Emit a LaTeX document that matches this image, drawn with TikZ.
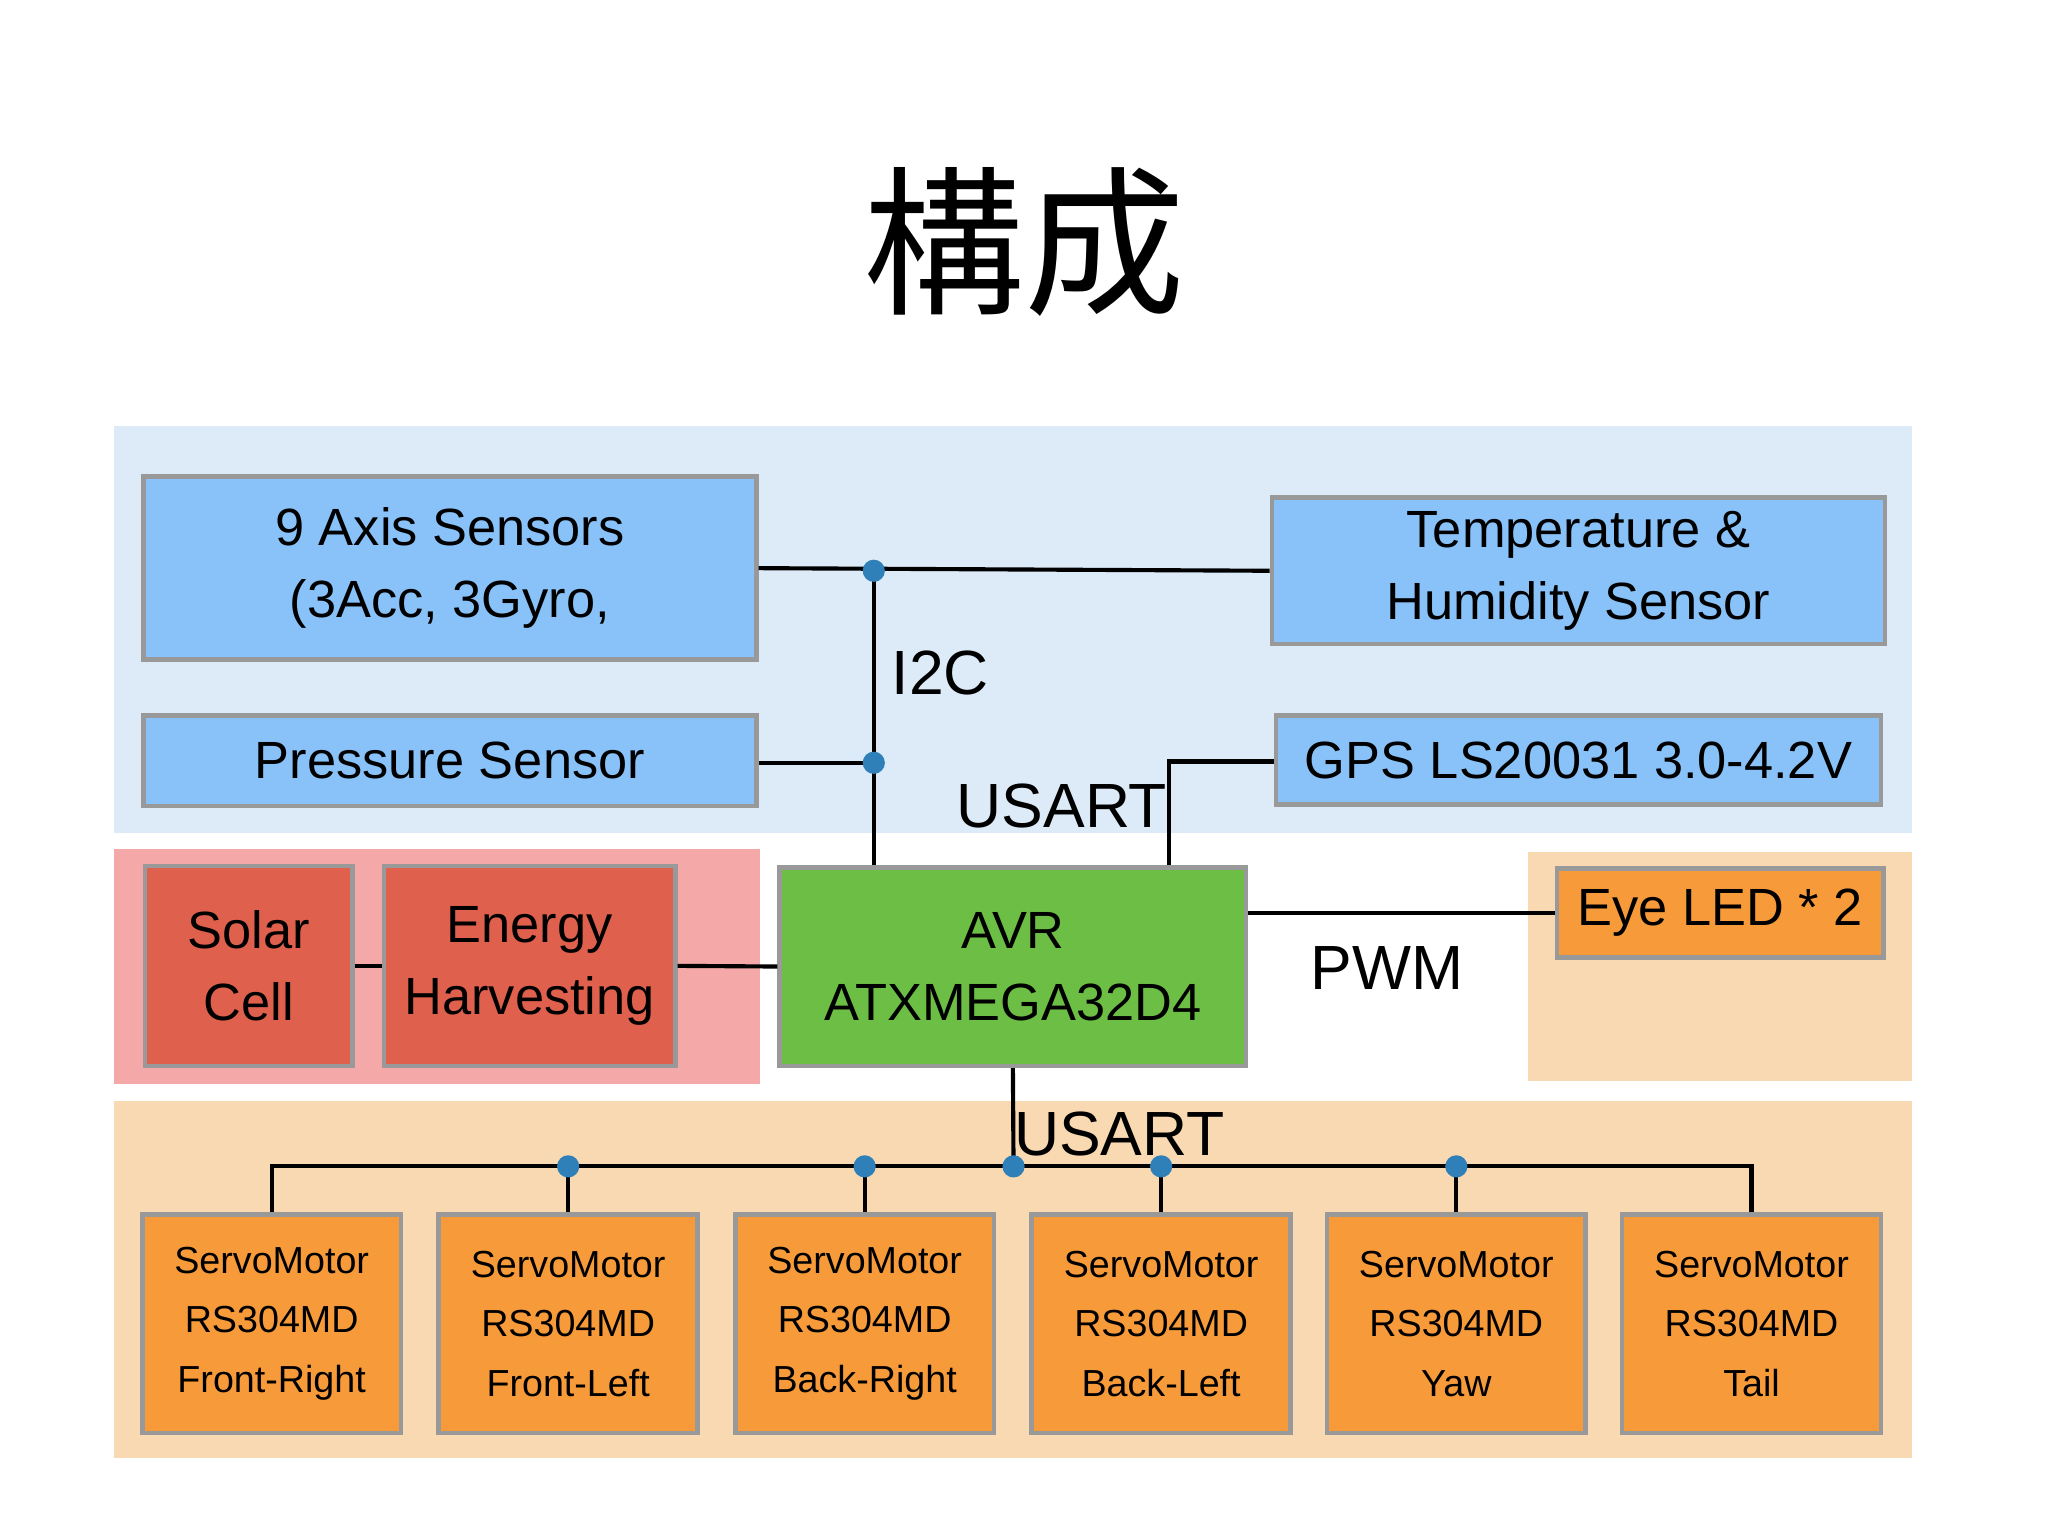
\documentclass[tikz,border=0pt]{standalone}
\usepackage{fontspec}
\setmainfont{Liberation Sans}
\newfontfamily\cjk{Noto Sans CJK JP}
\usetikzlibrary{positioning}
\definecolor{bgblue}{HTML}{DDEBF8}
\definecolor{bgpink}{HTML}{F4A9A8}
\definecolor{bgpeach}{HTML}{F9D9B2}
\definecolor{sensor}{HTML}{89C2F8}
\definecolor{power}{HTML}{E0604E}
\definecolor{avr}{HTML}{6DBE45}
\definecolor{servo}{HTML}{F79B3A}
\definecolor{dotblue}{HTML}{2F7FB8}
\begin{document}
\begin{tikzpicture}[x=0.01cm,y=-0.01cm,
    box/.style={draw=gray!80,line width=1pt,align=center,inner sep=0pt,
      font=\fontsize{11.4}{15.6}\selectfont},
    servobox/.style={box,fill=servo,minimum width=1.98cm,minimum height=1.67cm,
      font=\fontsize{8.2}{13}\selectfont},
    wire/.style={line width=0.9pt},
    junction/.style={circle,fill=dotblue,inner sep=0pt,minimum size=0.17cm},
    lbl/.style={font=\fontsize{13.6}{16}\selectfont}]
  \useasboundingbox (0,0) rectangle (1568,1176);
  % backgrounds
  \fill[bgblue] (87,326) rectangle (1464,638);
  \fill[bgpink] (87,650) rectangle (582,830);
  \fill[bgpeach] (1170,652) rectangle (1464,828);
  \fill[bgpeach] (87,843) rectangle (1464,1116);
  \node[font=\cjk\fontsize{35}{40}\selectfont] (title) at (784,185) {構成};
  % sensors
  \node[box,fill=sensor,minimum width=4.69cm,minimum height=1.40cm] (axis) at (344.5,435) {9 Axis Sensors\\(3Acc, 3Gyro,};
  \node[box,fill=sensor,minimum width=4.69cm,minimum height=1.12cm] (temp) at (1208.5,437) {Temperature \&\\Humidity Sensor};
  \node[box,fill=sensor,minimum width=4.69cm,minimum height=0.69cm] (press) at (344.5,582.5) {Pressure Sensor};
  \node[box,fill=sensor,minimum width=4.63cm,minimum height=0.68cm] (gps) at (1208.5,582) {GPS LS20031 3.0-4.2V};
  % power and controller
  \node[box,fill=power,minimum width=1.59cm,minimum height=1.53cm] (solar) at (190.5,739.5) {Solar\\Cell};
  \node[box,fill=power,minimum width=2.23cm,minimum height=1.53cm] (energy) at (405.5,739.5) {Energy\\Harvesting};
  \node[box,fill=avr,minimum width=3.57cm,minimum height=1.52cm] (mcu) at (775.5,740) {AVR\\ATXMEGA32D4};
  \node[box,fill=servo,minimum width=2.50cm,minimum height=0.68cm] (led) at (1317,699) {Eye LED * 2};
  % servos
  \foreach [count=\i] \cx/\pos in {208/Front-Right,435/Front-Left,662/Back-Right,889/Back-Left,1115/Yaw,1341/Tail}{
    \node[servobox] (sv\i) at (\cx,1013.5) {ServoMotor\\RS304MD\\\pos};
  }
  % I2C bus
  \coordinate (ja) at (669,437);
  \coordinate (jp) at (669,584);
  \draw[wire] (axis.east) -- (temp.west);
  \draw[wire] (press.east |- jp) -- (jp);
  \draw[wire] (ja) -- (ja |- mcu.north);
  \node[junction] at (ja) {};
  \node[junction] at (jp) {};
  \node[lbl] (i2c) at (720,515) {I2C};
  % GPS link
  \draw[wire] (mcu.north -| 895,0) -- (895,583) -- (gps.west |- 0,583);
  \node[lbl] (usart1) at (813,617) {USART};
  % power chain
  \draw[wire] (solar.east) -- (energy.west);
  \draw[wire] (energy.east) -- (mcu.west);
  % LED
  \draw[wire] (mcu.east |- led.west) -- (led.west);
  \node[lbl] (pwm) at (1062,741) {PWM};
  % servo bus
  \coordinate (jm) at (776,893);
  \draw[wire] (mcu.south) -- (jm);
  \node[lbl] (usart2) at (857,868) {USART};
  \draw[wire] (sv1.north) -- (sv1.north |- jm) -- (sv6.north |- jm) -- (sv6.north);
  \foreach \i in {2,...,5}{
    \draw[wire] (sv\i.north |- jm) -- (sv\i.north);
    \node[junction] at (sv\i.north |- jm) {};
  }
  \node[junction] at (jm) {};
\end{tikzpicture}
\end{document}
